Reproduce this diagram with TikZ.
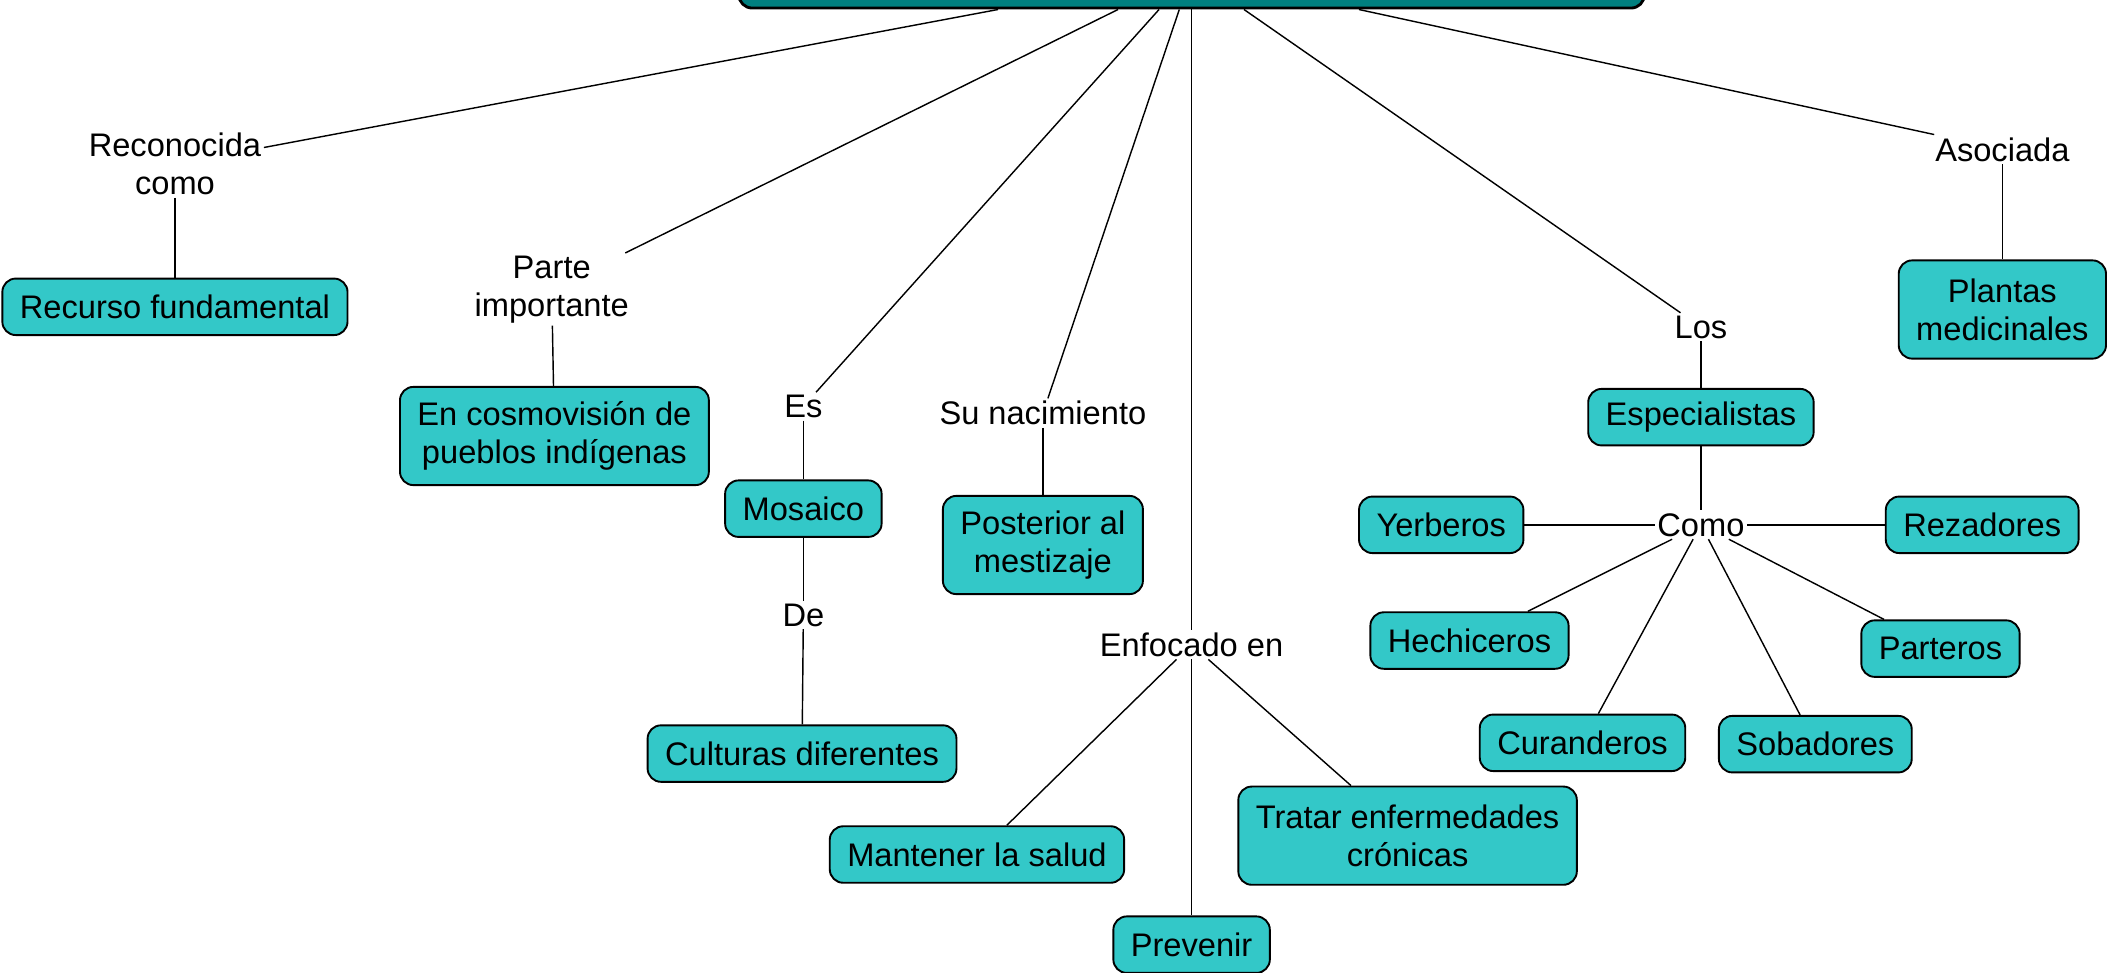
\documentclass[tikz,border=0pt]{standalone}
\usepackage{fontspec}
\setmainfont{Liberation Sans}
\usepackage{tikz}
\definecolor{cm_teal}{RGB}{0, 128, 128}
\definecolor{cm_cyan}{RGB}{51, 200, 200}
\tikzstyle{every node}=[font=\fontsize{13.8}{16}\selectfont]
\tikzstyle{root}=[rectangle,rounded corners=0.2cm,fill=cm_teal,draw=black,
  line width=1.2pt,minimum width=13.46cm,minimum height=1.04cm]
\tikzstyle{box}=[rectangle,rounded corners=0.2cm,fill=cm_cyan,draw=black,
  line width=0.8pt,inner xsep=0.26cm,inner ysep=0.16cm,minimum height=0.84cm,align=center]
\tikzstyle{tall}=[style=box,minimum height=1.46cm]
\tikzstyle{lbl}=[inner sep=1pt,align=center]
\tikzstyle{link}=[line width=0.6pt]

\begin{document}
\begin{tikzpicture}
		\useasboundingbox (0, 0) rectangle (31.36, -14.46);
		\node [style=root] (0) at (17.71, 0.40) {};
		\node [style=lbl] (1) at (2.60, -2.44) {Reconocida\\como};
		\node [style=lbl] (2) at (8.20, -4.30) {Parte\\importante};
		\node [style=lbl] (3) at (11.94, -6.04) {Es};
		\node [style=lbl] (4) at (11.94, -9.14) {De};
		\node [style=lbl] (5) at (15.50, -6.14) {Su nacimiento};
		\node [style=lbl] (6) at (17.71, -9.58) {Enfocado en};
		\node [style=lbl] (7) at (25.28, -4.86) {Los};
		\node [style=lbl] (8) at (25.28, -7.80) {Como};
		\node [style=lbl] (9) at (29.76, -2.22) {Asociada};
		\node [style=box] (10) at (2.60, -4.56) {Recurso fundamental};
		\node [style=tall] (11) at (8.24, -6.48) {En cosmovisión de\\pueblos indígenas};
		\node [style=box] (12) at (11.94, -7.56) {Mosaico};
		\node [style=box] (13) at (11.92, -11.20) {Culturas diferentes};
		\node [style=tall] (14) at (15.50, -8.10) {Posterior al\\mestizaje};
		\node [style=box] (15) at (14.52, -12.70) {Mantener la salud};
		\node [style=box] (16) at (17.71, -14.04) {Prevenir};
		\node [style=tall] (17) at (20.92, -12.42) {Tratar enfermedades\\crónicas};
		\node [style=box] (18) at (25.28, -6.20) {Especialistas};
		\node [style=box] (19) at (21.42, -7.80) {Yerberos};
		\node [style=box] (20) at (29.46, -7.80) {Rezadores};
		\node [style=box] (21) at (21.84, -9.52) {Hechiceros};
		\node [style=box] (22) at (23.52, -11.04) {Curanderos};
		\node [style=box] (23) at (26.98, -11.06) {Sobadores};
		\node [style=box] (24) at (28.84, -9.64) {Parteros};
		\node [style=tall] (25) at (29.76, -4.60) {Plantas\\medicinales};
		\draw [style=link] (0) to (1);
		\draw [style=link] (0) to (2);
		\draw [style=link] (0) to (3);
		\draw [style=link] (0) to (5);
		\draw [style=link] (0) to (6);
		\draw [style=link] (0) to (7);
		\draw [style=link] (0) to (9);
		\draw [style=link] (1) to (10);
		\draw [style=link] (2) to (11);
		\draw [style=link] (3) to (12);
		\draw [style=link] (12) to (4);
		\draw [style=link] (4) to (13);
		\draw [style=link] (5) to (14);
		\draw [style=link] (6) to (15);
		\draw [style=link] (6) to (16);
		\draw [style=link] (6) to (17);
		\draw [style=link] (7) to (18);
		\draw [style=link] (18) to (8);
		\draw [style=link] (8) to (19);
		\draw [style=link] (8) to (20);
		\draw [style=link] (8) to (21);
		\draw [style=link] (8) to (22);
		\draw [style=link] (8) to (23);
		\draw [style=link] (8) to (24);
		\draw [style=link] (9) to (25);
\end{tikzpicture}
\end{document}
